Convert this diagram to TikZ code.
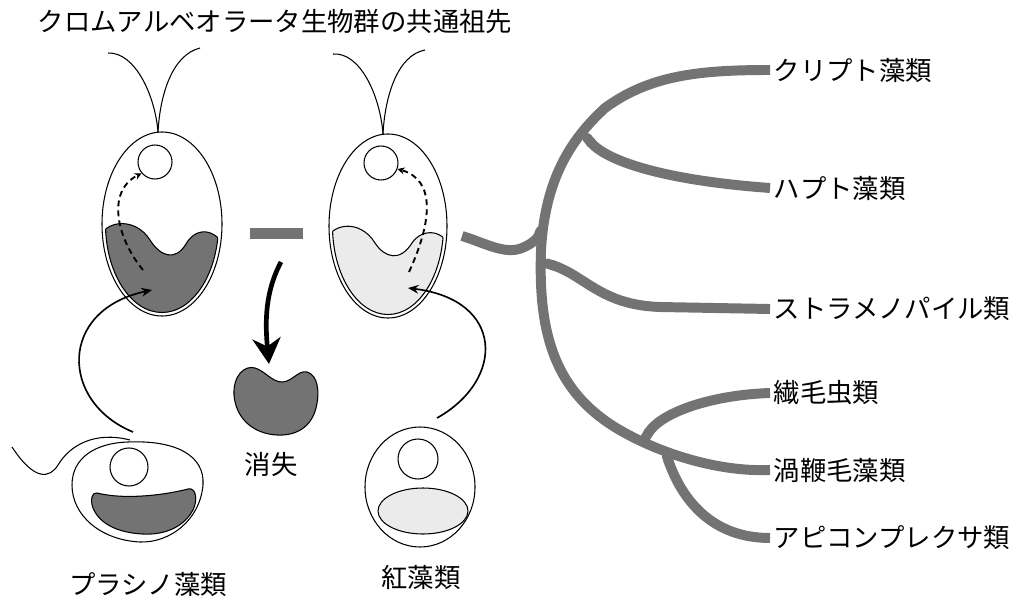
\documentclass[tikz,border=0pt]{standalone}
\usepackage{fontspec}
\newfontfamily\jpfont{Noto Sans CJK JP}
\usetikzlibrary{arrows.meta}
\definecolor{plastdark}{gray}{0.45}
\definecolor{plastlight}{gray}{0.92}
\definecolor{treegray}{gray}{0.45}
\begin{document}
\begin{tikzpicture}[x=0.03cm, y=-0.03cm, line join=round,
  outline/.style={draw=black, line width=0.9pt},
  branch/.style={draw=treegray, line width=8.5pt},
  transfer/.style={draw=black, line width=1.4pt, -{Stealth[length=9pt,width=7.5pt]}},
  moving/.style={draw=black, line width=1.6pt, dash pattern=on 5pt off 3.5pt, -{Stealth[length=6pt,width=6pt]}},
  lbl/.style={font=\jpfont\fontsize{22.5pt}{24pt}\selectfont, inner sep=0pt},
  taxon/.style={lbl, anchor=west, inner sep=3pt}]
\useasboundingbox (0,0) rectangle (1013,596);

% ---------- title ----------
\node[lbl] (title) at (275,22) {クロムアルベオラータ生物群の共通祖先};

% ---------- ancestral cell with green-type plastid ----------
\coordinate (aC) at (162,224);
\draw[outline] (108,53) .. controls (135,52) and (155,95) .. (158,132);
\draw[outline] (200,48) .. controls (172,55) and (160,95) .. (158,132);
\begin{scope}
  \clip (aC) ellipse [x radius=1.695cm, y radius=2.655cm];
  \filldraw[fill=plastdark, outline] (95,248) .. controls (100,218) and (135,216) .. (150,240)
    .. controls (160,256) and (175,262) .. (186,244)
    .. controls (195,228) and (215,225) .. (228,252) -- (228,330) -- (95,330) -- cycle;
\end{scope}
\begin{scope}
  \clip (95,248) .. controls (100,218) and (135,216) .. (150,240)
    .. controls (160,256) and (175,262) .. (186,244)
    .. controls (195,228) and (215,225) .. (228,252) -- (228,330) -- (95,330) -- cycle;
  \draw[outline] (aC) ellipse [x radius=1.695cm, y radius=2.655cm];
\end{scope}
\draw[outline] (aC) ellipse [x radius=1.8cm, y radius=2.76cm];
\node[circle, outline, minimum size=1.02cm, inner sep=0pt] (aN) at (155,162) {};
\coordinate (aS) at (143,270);
\draw[moving] (aS) .. controls (118,240) and (105,192) .. (aN.220);

% ---------- ancestral cell with red-type plastid ----------
\coordinate (bC) at (388,226);
\draw[outline] (333,54) .. controls (360,52) and (380,95) .. (383,134);
\draw[outline] (425,50) .. controls (398,55) and (385,95) .. (383,134);
\begin{scope}
  \clip (bC) ellipse [x radius=1.665cm, y radius=2.655cm];
  \filldraw[fill=plastlight, outline] (320,255) .. controls (325,220) and (360,218) .. (375,243)
    .. controls (385,258) and (400,262) .. (412,243)
    .. controls (422,228) and (445,228) .. (452,252) -- (452,330) -- (320,330) -- cycle;
\end{scope}
\begin{scope}
  \clip (320,255) .. controls (325,220) and (360,218) .. (375,243)
    .. controls (385,258) and (400,262) .. (412,243)
    .. controls (422,228) and (445,228) .. (452,252) -- (452,330) -- (320,330) -- cycle;
  \draw[outline] (bC) ellipse [x radius=1.665cm, y radius=2.655cm];
\end{scope}
\draw[outline] (bC) ellipse [x radius=1.77cm, y radius=2.76cm];
\node[circle, outline, minimum size=1.02cm, inner sep=0pt] (bN) at (381,163) {};
\coordinate (bS) at (409,272);
\draw[moving] (bS) .. controls (432,222) and (436,180) .. (bN.-20);

% ---------- lost plastid ----------
\fill[treegray] (250,228) rectangle (303,239);
\coordinate (lossS) at (281,262);
\filldraw[fill=plastdark, outline] (234,395) .. controls (233,375) and (245,365) .. (255,368)
  .. controls (265,371) and (272,382) .. (282,382)
  .. controls (292,382) and (298,370) .. (307,372)
  .. controls (318,375) and (320,392) .. (316,408)
  .. controls (311,428) and (295,436) .. (277,435)
  .. controls (255,434) and (236,420) .. (234,395) -- cycle;
\coordinate (lossE) at (269,364);
\draw[line width=4pt, -{Stealth[length=22pt,width=24pt,inset=7pt]}]
  (lossS) .. controls (265,292) and (265,322) .. (lossE);
\node[lbl] (lost) at (271,464) {消失};

% ---------- prasinophyte ----------
\draw[outline] (128,442) .. controls (175,440) and (205,455) .. (203,485)
  .. controls (200,520) and (170,543) .. (140,542)
  .. controls (100,540) and (72,515) .. (72,485)
  .. controls (72,458) and (95,443) .. (128,442) -- cycle;
\draw[outline] (130,440) .. controls (95,431) and (70,445) .. (58,465)
  .. controls (50,478) and (35,482) .. (12,447);
\node[circle, outline, minimum size=1.14cm, inner sep=0pt] (pN) at (129,467) {};
\filldraw[fill=plastdark, outline] (97,493) .. controls (125,500) and (165,495) .. (188,489)
  .. controls (196,487) and (198,500) .. (193,510)
  .. controls (182,530) and (160,535) .. (143,534)
  .. controls (120,533) and (100,525) .. (93,508)
  .. controls (90,500) and (92,492) .. (97,493) -- cycle;
\node[lbl] (prasino) at (148,584) {プラシノ藻類};
\coordinate (pS) at (133,432);
\coordinate (aE) at (152,290);
\draw[transfer] (pS) .. controls (60,402) and (58,310) .. (aE);

% ---------- red alga ----------
\coordinate (rC) at (420,487);
\draw[outline] (rC) ellipse [x radius=1.65cm, y radius=1.8cm];
\node[circle, outline, minimum size=1.2cm, inner sep=0pt] (rN) at (418,459) {};
\filldraw[fill=plastlight, outline] (423,511) ellipse [x radius=1.35cm, y radius=0.69cm];
\node[lbl] (red) at (421,577) {紅藻類};
\coordinate (rS) at (437,418);
\coordinate (bE) at (408,288);
\draw[transfer] (rS) .. controls (505,380) and (505,300) .. (bE);

% ---------- tree of descendants ----------
\node[taxon] (crypto) at (770,70) {クリプト藻類};
\node[taxon] (hapto) at (770,188) {ハプト藻類};
\node[taxon] (strameno) at (770,309) {ストラメノパイル類};
\node[taxon] (cilia) at (770,393) {繊毛虫類};
\node[taxon] (dino) at (770,470) {渦鞭毛藻類};
\node[taxon] (apico) at (770,538) {アピコンプレクサ類};

\coordinate (stem) at (462,236);
\coordinate (join) at (542,226);
\coordinate (top) at (584,134);
\coordinate (mid) at (542,262);
\coordinate (low1) at (643,442);
\coordinate (low2) at (665,451);

\draw[branch, -{Round Cap[]}] (stem) .. controls (485,243) and (505,255) .. (522,248)
  .. controls (532,244) and (538,238) .. (join);
\draw[branch] (crypto.west) .. controls (700,70) and (650,75) .. (605,108)
  .. controls (570,140) and (545,180) .. (541,250)
  .. controls (538,335) and (555,395) .. (625,433)
  .. controls (665,455) and (720,472) .. (dino.west);
\draw[branch, {Round Cap[]}-] (top) .. controls (605,160) and (660,180) .. (hapto.west);
\draw[branch, {Round Cap[]}-] (mid) .. controls (585,275) and (600,305) .. (660,307) -- (strameno.west);
\draw[branch, {Round Cap[]}-] (low1) .. controls (660,413) and (710,395) .. (cilia.west);
\draw[branch, {Round Cap[]}-] (low2) .. controls (682,500) and (712,538) .. (apico.west);
\end{tikzpicture}
\end{document}
